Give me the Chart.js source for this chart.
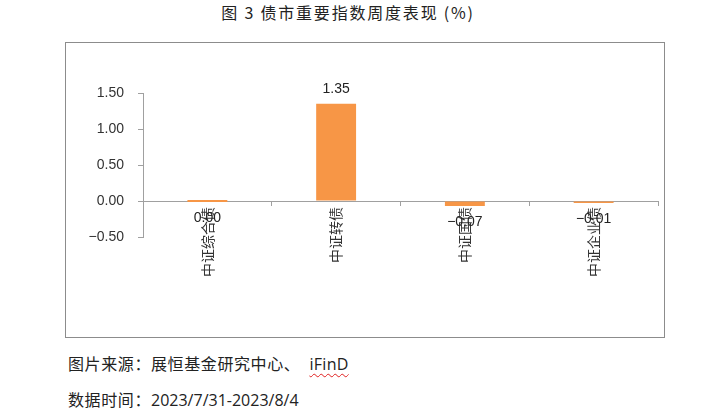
<!DOCTYPE html>
<html>
<head>
<meta charset="utf-8">
<script src="https://cdn.jsdelivr.net/npm/chart.js@4/dist/chart.umd.min.js"></script>
<style>
  html,body{margin:0;padding:0;background:#fff;}
  body{width:712px;height:412px;position:relative;overflow:hidden;}
  #title{position:absolute;left:0;width:696px;top:0px;text-align:center;font-family:"Noto Sans CJK SC",sans-serif;font-size:16px;color:#222;letter-spacing:1.8px;}
  #box{position:absolute;left:65px;top:42px;width:600px;height:296px;box-sizing:border-box;border:1px solid #8c8c8c;}
  #box canvas{position:absolute;left:0;top:0;}
  .foot{position:absolute;left:68px;font-family:"Noto Sans CJK SC",sans-serif;font-size:16px;color:#222;letter-spacing:0.6px;}
  .wavy{margin-left:9px;text-decoration:underline wavy #e02020;text-decoration-thickness:1px;text-underline-offset:3px;font-family:"Open Sans","Noto Sans",sans-serif;letter-spacing:0.3px;}
  .num{font-family:"Open Sans","Noto Sans",sans-serif;letter-spacing:0;}
</style>
</head>
<body>
<div id="title">图 3 债市重要指数周度表现 (%)</div>
<div id="box"><canvas id="c" width="598" height="294"></canvas></div>
<div class="foot" style="top:351px;">图片来源：展恒基金研究中心、<span class="wavy">iFinD</span></div>
<div class="foot" style="top:387px;">数据时间：<span class="num">2023/7/31-2023/8/4</span></div>
<script>
const categories = ["中证综合债", "中证转债", "中证国债", "中证企业债"];
const weeklyChange = [0.00, 1.35, -0.07, -0.01];
const yTicks = [-0.5, 0, 0.5, 1.0, 1.5];

function fmt(v){
  const s = Math.abs(v).toFixed(2);
  return (v < 0 && s !== "0.00") ? "\u2212" + s : s;
}

const valueLabels = {
  id: 'valueLabels',
  afterDatasetsDraw(chart){
    const ctx = chart.ctx;
    const meta = chart.getDatasetMeta(0);
    ctx.save();
    ctx.font = '14px "Liberation Sans", Arial, sans-serif';
    ctx.fillStyle = '#222';
    ctx.textAlign = 'center';
    meta.data.forEach((bar, i) => {
      const v = weeklyChange[i];
      if (v > 0) {
        ctx.textBaseline = 'bottom';
        ctx.fillText(fmt(v), bar.x, bar.y - 8);
      } else {
        ctx.textBaseline = 'top';
        ctx.fillText(fmt(v), bar.x, bar.y + 9);
      }
    });
    ctx.restore();
  }
};

new Chart(document.getElementById('c'), {
  type: 'bar',
  data: {
    labels: categories,
    datasets: [{
      data: weeklyChange,
      backgroundColor: '#F79646',
      borderWidth: 0,
      barPercentage: 0.31,
      categoryPercentage: 1.0,
      minBarLength: 2
    }]
  },
  options: {
    responsive: false,
    animation: false,
    devicePixelRatio: 1,
    layout: { padding: { left: 0, right: 6, top: 50, bottom: 100 } },
    plugins: { legend: { display: false }, tooltip: { enabled: false } },
    scales: {
      x: {
        position: { y: 0 },
        grid: { offset: true, drawOnChartArea: false, tickLength: 4, color: '#a0a0a0', lineWidth: 1 },
        border: { color: '#a0a0a0', width: 1 },
        ticks: {
          minRotation: 90, maxRotation: 90, padding: 2,
          color: '#333',
          font: { family: '"Noto Sans CJK SC", sans-serif', size: 14 }
        }
      },
      y: {
        min: -0.5, max: 1.5,
        afterFit(scale){ scale.width = 77; },
        afterBuildTicks(scale){ scale.ticks = yTicks.map(v => ({ value: v })); },
        grid: { drawOnChartArea: false, tickLength: 5, color: '#a0a0a0' },
        border: { color: '#a0a0a0', width: 1 },
        ticks: {
          padding: 14,
          color: '#333',
          font: { family: '"Liberation Sans", Arial, sans-serif', size: 14 },
          callback: (v) => fmt(v)
        }
      }
    }
  },
  plugins: [valueLabels]
});
</script>
</body>
</html>
